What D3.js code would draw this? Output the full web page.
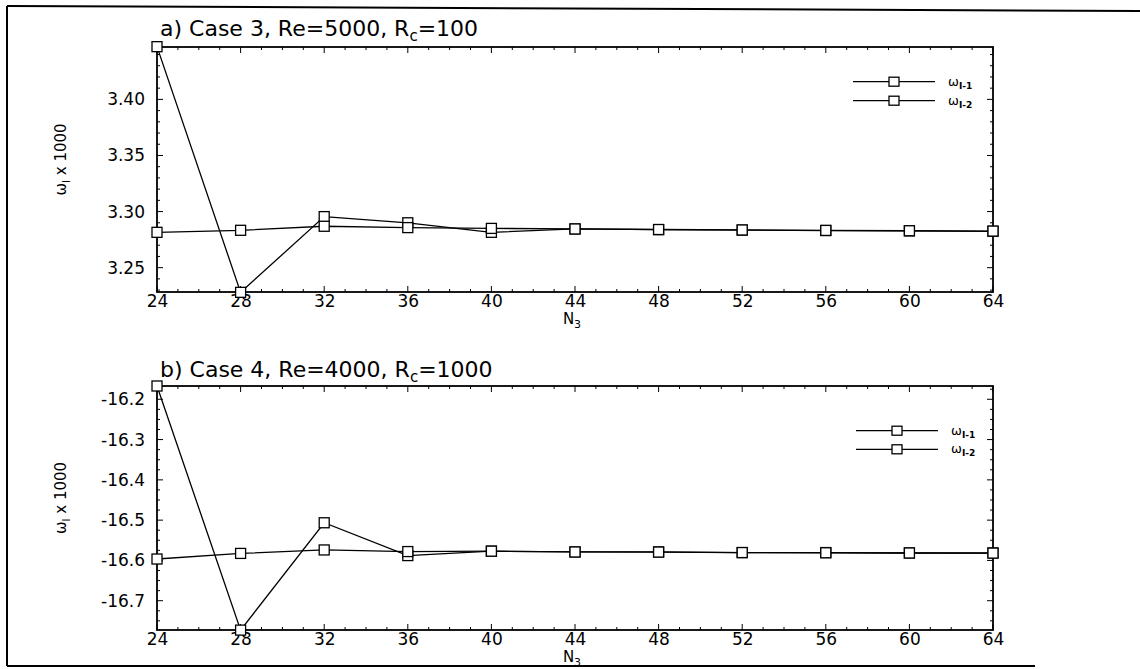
<!DOCTYPE html>
<html><head><meta charset="utf-8">
<script src="https://cdn.jsdelivr.net/npm/d3@7"></script>
<style>
body{margin:0;background:#fff;}
text{font-family:"DejaVu Sans","Liberation Sans",Arial,sans-serif;fill:#000;}
</style></head><body>
<svg id="c" width="1140" height="669"></svg>
<script>
const N3 = [24,28,32,36,40,44,48,52,56,60,64];
// Panel a) Case 3, Re=5000, Rc=100
const a_w1 = [3.447,3.228,3.2955,3.290,3.2815,3.2845,3.2839,3.2835,3.2831,3.2828,3.2824];
const a_w2 = [3.2815,3.2833,3.2869,3.2857,3.2850,3.2845,3.2840,3.2836,3.2832,3.2829,3.2826];
const a_yTicks = [3.25,3.30,3.35,3.40];
// Panel b) Case 4, Re=4000, Rc=1000
const b_w1 = [-16.167,-16.773,-16.5065,-16.588,-16.577,-16.579,-16.579,-16.5805,-16.5805,-16.5815,-16.5815];
const b_w2 = [-16.5965,-16.5826,-16.574,-16.578,-16.577,-16.579,-16.5792,-16.5805,-16.581,-16.5815,-16.5818];
const b_yTicks = [-16.7,-16.6,-16.5,-16.4,-16.3,-16.2];
const xTicks = [24,28,32,36,40,44,48,52,56,60,64];

const svg = d3.select("#c");
// frame
svg.append("line").attr("x1",7).attr("x2",7).attr("y1",6).attr("y2",666).attr("stroke","#000").attr("stroke-width",2);
svg.append("line").attr("x1",7).attr("x2",1140).attr("y1",6).attr("y2",11).attr("stroke","#000").attr("stroke-width",2);
svg.append("line").attr("x1",7).attr("x2",1035).attr("y1",666).attr("y2",666).attr("stroke","#000").attr("stroke-width",2);

const hy = f => v => f(v).replace("\u2212","-");

function panel(cfg){
  const L=157,R=993,T=cfg.top,B=cfg.bottom;
  const g = svg.append("g");
  const x = d3.scaleLinear().domain([24,64]).range([L,R]);
  const y = d3.scaleLinear().domain(cfg.ydom).range([B,T]);
  // title
  const t = g.append("text").attr("x",160).attr("y",cfg.titleY).attr("font-size",22);
  t.append("tspan").text(cfg.title);
  t.append("tspan").attr("font-size",15).attr("dy",5).text("c");
  t.append("tspan").attr("dy",-5).text(cfg.rc);
  // box
  g.append("rect").attr("x",L).attr("y",T).attr("width",R-L).attr("height",B-T).attr("fill","none").attr("stroke","#000").attr("stroke-width",1.8);
  // x ticks (bottom & top, inward)
  const xMinor = d3.range(24,65,1);
  xMinor.forEach(v=>{
    const major = xTicks.includes(v);
    const len = major?6:3;
    g.append("line").attr("x1",x(v)).attr("x2",x(v)).attr("y1",B).attr("y2",B-len).attr("stroke","#000");
    g.append("line").attr("x1",x(v)).attr("x2",x(v)).attr("y1",T).attr("y2",T+len).attr("stroke","#000");
  });
  const xa = d3.axisBottom(x).tickValues(xTicks).tickSize(0).tickPadding(3);
  const xg = g.append("g").attr("transform",`translate(0,${B})`).call(xa);
  xg.select(".domain").remove();
  xg.selectAll("text").attr("font-size",17).attr("font-family","DejaVu Sans, sans-serif");
  // y ticks
  const yMinor = d3.range(cfg.minorStart, cfg.ydom[1]+1e-9, cfg.minorStep);
  yMinor.forEach(v=>{
    if (v < cfg.ydom[0]-1e-9) return;
    const major = cfg.yTicks.some(m=>Math.abs(m-v)<1e-6);
    const len = major?6:3;
    g.append("line").attr("x1",L).attr("x2",L+len).attr("y1",y(v)).attr("y2",y(v)).attr("stroke","#000");
    g.append("line").attr("x1",R).attr("x2",R-len).attr("y1",y(v)).attr("y2",y(v)).attr("stroke","#000");
  });
  const ya = d3.axisLeft(y).tickValues(cfg.yTicks).tickSize(0).tickPadding(12).tickFormat(hy(cfg.fmt));
  const yg = g.append("g").attr("transform",`translate(${L},0)`).call(ya);
  yg.select(".domain").remove();
  yg.selectAll("text").attr("font-size",17).attr("font-family","DejaVu Sans, sans-serif");
  // axis labels
  const xl = g.append("text").attr("x",572).attr("y",B+32).attr("text-anchor","middle").attr("font-size",15);
  xl.append("tspan").text("N");
  xl.append("tspan").attr("font-size",11).attr("dy",4).text("3");
  const yl = g.append("text").attr("transform",`translate(66,${(T+B)/2-10}) rotate(-90)`).attr("text-anchor","middle").attr("font-size",15).attr("font-family","Liberation Sans, Arial, sans-serif");
  yl.append("tspan").text("ω");
  yl.append("tspan").attr("font-size",10).attr("dy",4).text("I");
  yl.append("tspan").attr("dy",-4).text(" x 1000");
  // series
  const line = d3.line().x((d,i)=>x(N3[i])).y(d=>y(d));
  [cfg.w1,cfg.w2].forEach(s=>{
    g.append("path").attr("d",line(s)).attr("fill","none").attr("stroke","#000").attr("stroke-width",1.3);
  });
  [cfg.w1,cfg.w2].forEach(s=>{
    g.selectAll(null).data(s).enter().append("rect")
      .attr("x",(d,i)=>x(N3[i])-5).attr("y",d=>y(d)-5).attr("width",10).attr("height",10)
      .attr("fill","#fff").attr("stroke","#000").attr("stroke-width",1.3);
  });
  // legend
  const labels = ["I-1","I-2"];
  cfg.legY.forEach((ly,i)=>{
    g.append("line").attr("x1",cfg.legX).attr("x2",cfg.legX+82).attr("y1",ly).attr("y2",ly).attr("stroke","#000").attr("stroke-width",1.3);
    g.append("rect").attr("x",cfg.legX+41-5).attr("y",ly-4.5).attr("width",10).attr("height",9).attr("fill","#fff").attr("stroke","#000").attr("stroke-width",1.3);
    const lt = g.append("text").attr("x",cfg.legX+95).attr("y",ly+4).attr("font-size",13).attr("font-family","Liberation Sans, Arial, sans-serif");
    lt.append("tspan").text("ω");
    lt.append("tspan").attr("font-size",9).attr("dy",3).attr("font-weight","bold").text(labels[i]);
  });
}

panel({top:47,bottom:292,ydom:[3.2283,3.4467],w1:a_w1,w2:a_w2,yTicks:a_yTicks,
  minorStart:3.23,minorStep:0.01,fmt:d3.format(".2f"),
  title:"a) Case 3, Re=5000, R",rc:"=100",titleY:36,legX:853,legY:[81.7,100.7]});
panel({top:386,bottom:630,ydom:[-16.7727,-16.167],w1:b_w1,w2:b_w2,yTicks:b_yTicks,
  minorStart:-16.75,minorStep:0.025,fmt:d3.format(".1f"),
  title:"b) Case 4, Re=4000, R",rc:"=1000",titleY:377,legX:856,legY:[430.7,449.3]});
</script>
</body></html>
